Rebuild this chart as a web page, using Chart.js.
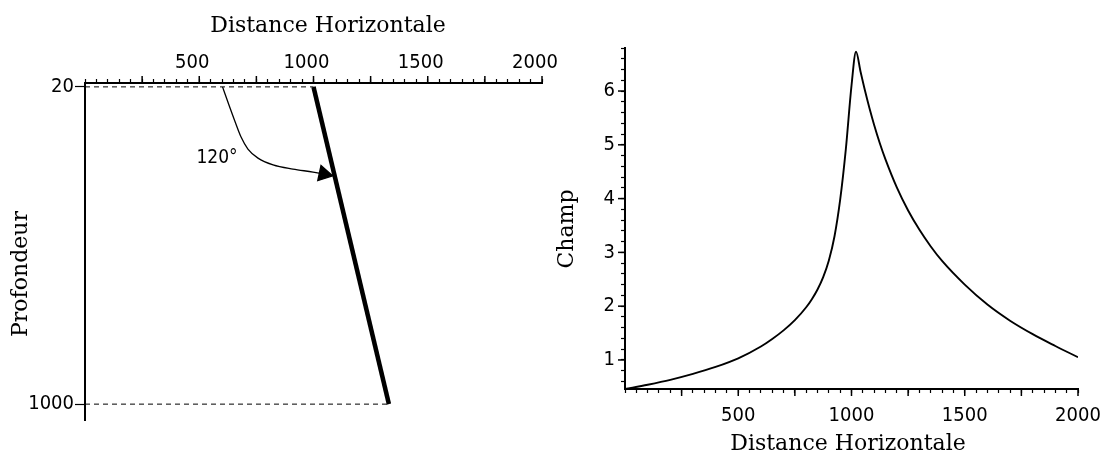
<!DOCTYPE html>
<html>
<head>
<meta charset="utf-8">
<script src="https://cdn.jsdelivr.net/npm/chart.js@4.4.1/dist/chart.umd.min.js"></script>
<style>
  html, body { margin: 0; padding: 0; background: #fff; }
  #wrap { position: relative; width: 1101px; height: 465px; overflow: hidden; }
  .panel { position: absolute; top: 0; }
  #left-panel  { left: 0; }
  #right-panel { left: 545px; }
</style>
</head>
<body>
<div id="wrap">
  <div class="panel" id="left-panel"><canvas id="faultChart" width="560" height="465"></canvas></div>
  <div class="panel" id="right-panel"><canvas id="fieldChart" width="556" height="465"></canvas></div>
</div>
<script>
// left panel : fault geometry (distance, depth)
const faultDist    = [1000, 1330];
const faultDepth   = [20, 1000];
const topDashDist  = [0, 1000];
const topDashDepth = [20, 20];
const botDashDist  = [0, 1330];
const botDashDepth = [1000, 1000];
const arcDist      = [602, 630, 656, 683, 713, 757, 823, 910, 998, 1045];
const arcDepth     = [20, 76, 126, 175, 212, 240, 261, 274, 283, 289];
const depthTicks   = [20, 1000];
const distLabels   = [500, 1000, 1500, 2000];
const distMajor    = [250, 500, 750, 1000, 1250, 1500, 1750, 2000];

// right panel : field vs horizontal distance
const champDist = [0, 100, 200, 300, 400, 500, 600, 650, 700, 750, 800, 825, 850, 875, 900, 925, 950, 975, 1000, 1020,
                   1040, 1060, 1080, 1100, 1125, 1150, 1200, 1250, 1300, 1350, 1400, 1500, 1600, 1700, 1800, 1900, 2000];
const champVal  = [0.46, 0.54, 0.63, 0.74, 0.87, 1.03, 1.25, 1.39, 1.55, 1.74, 1.98, 2.13, 2.31, 2.54, 2.85, 3.3, 3.98, 4.92, 6.1, 6.73,
                   6.36, 6.0, 5.67, 5.37, 5.03, 4.73, 4.21, 3.78, 3.42, 3.11, 2.84, 2.4, 2.03, 1.73, 1.48, 1.26, 1.05];
const champLabels = [1, 2, 3, 4, 5, 6];

const tickFont  = { family: '"DejaVu Sans Condensed", "DejaVu Sans", sans-serif', size: 20 };
const titleFont = '22px "DejaVu Serif", serif';

Chart.defaults.animation = false;
Chart.defaults.color = "#000";

const toXY = (xs, ys) => xs.map((x, i) => ({ x, y: ys[i] }));
const noPad = s => { s.paddingLeft = 0; s.paddingRight = 0; s.paddingTop = 0; s.paddingBottom = 0; };

// longer tick marks at the major values
const majorTicks = {
  id: "majorTicks",
  afterDraw(chart, args, opts) {
    const ctx = chart.ctx;
    ctx.save();
    ctx.strokeStyle = "#000";
    ctx.lineWidth = 1.5;
    (opts.list || []).forEach(m => {
      const scale = chart.scales[m.axis];
      m.values.forEach(v => {
        const p = scale.getPixelForValue(v);
        ctx.beginPath();
        if (scale.isHorizontal()) {
          const y0 = scale.position === "top" ? scale.bottom : scale.top;
          const dir = scale.position === "top" ? -1 : 1;
          ctx.moveTo(p, y0);
          ctx.lineTo(p, y0 + dir * m.len);
        } else {
          ctx.moveTo(scale.right, p);
          ctx.lineTo(scale.right - m.len, p);
        }
        ctx.stroke();
      });
    });
    ctx.restore();
  }
};

// axis titles and annotation text
const textLabels = {
  id: "textLabels",
  afterDraw(chart, args, opts) {
    const ctx = chart.ctx;
    (opts.items || []).forEach(t => {
      ctx.save();
      ctx.fillStyle = "#000";
      ctx.font = t.font || titleFont;
      ctx.textAlign = "center";
      ctx.textBaseline = "middle";
      ctx.translate(t.x, t.y);
      if (t.rotate) ctx.rotate(t.rotate * Math.PI / 180);
      ctx.fillText(t.text, 0, 0);
      ctx.restore();
    });
  }
};

const lineDs = (data, extra) => Object.assign({
  data, showLine: true, borderColor: "#000", backgroundColor: "#000",
  pointRadius: 0, borderWidth: 1, fill: false
}, extra);

new Chart(document.getElementById("faultChart"), {
  type: "scatter",
  data: {
    datasets: [
      lineDs(toXY(topDashDist, topDashDepth), { borderDash: [5, 4] }),
      lineDs(toXY(botDashDist, botDashDepth), { borderDash: [5, 4] }),
      lineDs(toXY(faultDist, faultDepth), { borderWidth: 4.5 }),
      lineDs(toXY(arcDist, arcDepth), {
        borderWidth: 1.3,
        cubicInterpolationMode: "monotone",
        pointStyle: "triangle",
        rotation: 102,
        pointRadius: c => (c.dataIndex === arcDist.length - 1 ? 9 : 0),
      }),
    ],
  },
  options: {
    responsive: false,
    layout: { padding: { left: 0, right: 18, top: 0, bottom: 45 } },
    plugins: {
      legend: { display: false },
      tooltip: { enabled: false },
      majorTicks: { list: [{ axis: "x", values: distMajor, len: 7 }] },
      textLabels: {
        items: [
          { text: "Distance Horizontale", x: 328, y: 26 },
          { text: "Profondeur", x: 21, y: 274, rotate: -90 },
          { text: "120°", x: 217, y: 158, font: '19px "DejaVu Sans Condensed", "DejaVu Sans", sans-serif' },
        ],
      },
    },
    scales: {
      x: {
        type: "linear", position: "top", min: 0, max: 2000,
        border: { color: "#000", width: 2 },
        grid: { drawOnChartArea: false, tickLength: 4, tickColor: "#000", tickWidth: 1.2 },
        ticks: {
          stepSize: 50, autoSkip: false, maxRotation: 0, font: tickFont, padding: 4, labelOffset: -7,
          callback: v => (distLabels.includes(v) ? String(v) : ""),
        },
        afterFit: s => { s.height = 83; noPad(s); },
      },
      y: {
        type: "linear", reverse: true, min: 8, max: 1049,
        border: { color: "#000", width: 2 },
        grid: { drawOnChartArea: false, tickLength: 10, tickColor: "#000", tickWidth: 1.2 },
        afterBuildTicks: s => { s.ticks = depthTicks.map(v => ({ value: v })); },
        ticks: { autoSkip: false, font: tickFont, padding: 1, callback: v => String(v) },
        afterFit: s => { s.width = 85; noPad(s); },
      },
    },
  },
  plugins: [majorTicks, textLabels],
});

new Chart(document.getElementById("fieldChart"), {
  type: "scatter",
  data: {
    datasets: [
      lineDs(toXY(champDist, champVal), { borderWidth: 1.9, cubicInterpolationMode: "monotone" }),
    ],
  },
  options: {
    responsive: false,
    layout: { padding: { left: 0, right: 23, top: 48, bottom: 0 } },
    plugins: {
      legend: { display: false },
      tooltip: { enabled: false },
      majorTicks: {
        list: [
          { axis: "x", values: distMajor, len: 7 },
          { axis: "y", values: champLabels, len: 7 },
        ],
      },
      textLabels: {
        items: [
          { text: "Distance Horizontale", x: 303, y: 444 },
          { text: "Champ", x: 22, y: 229, rotate: -90 },
        ],
      },
    },
    scales: {
      x: {
        type: "linear", position: "bottom", min: 0, max: 2000,
        border: { color: "#000", width: 2 },
        grid: { drawOnChartArea: false, tickLength: 4, tickColor: "#000", tickWidth: 1.2 },
        ticks: {
          stepSize: 50, autoSkip: false, maxRotation: 0, font: tickFont, padding: 11,
          callback: v => (distLabels.includes(v) ? String(v) : ""),
        },
        afterFit: s => { s.height = 76; noPad(s); },
      },
      y: {
        type: "linear", min: 0.46, max: 6.8,
        border: { color: "#000", width: 2 },
        grid: { drawOnChartArea: false, tickLength: 4, tickColor: "#000", tickWidth: 1.2 },
        ticks: {
          stepSize: 0.2, includeBounds: false, autoSkip: false, font: tickFont, padding: 6,
          callback: v => (champLabels.some(c => Math.abs(c - v) < 1e-6) ? String(Math.round(v)) : ""),
        },
        afterFit: s => { s.width = 80; noPad(s); },
      },
    },
  },
  plugins: [majorTicks, textLabels],
});
</script>
</body>
</html>
